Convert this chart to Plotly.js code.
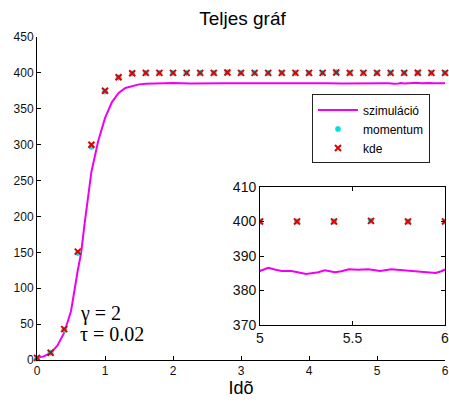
<!DOCTYPE html>
<html>
<head>
<meta charset="utf-8">
<script src="https://cdn.plot.ly/plotly-3.0.1.min.js"></script>
<style>html,body{margin:0;padding:0;background:#fff;}#chart{width:449px;height:403px;}</style>
</head>
<body>
<div id="chart"></div>
<script>
// Simulation curve (time, value)
var simT = [0,0.1,0.2,0.3,0.4,0.5,0.6,0.65,0.7,0.8,0.9,1.0,1.1,1.2,1.3,1.4,1.5,1.6,1.8,2.0,2.25,2.5,2.75,3.0,3.25,3.5,3.75,4.0,4.25,4.5,4.75,5.0,5.045,5.08,5.117,5.17,5.21,5.25,5.315,5.35,5.405,5.44,5.48,5.53,5.585,5.65,5.71,5.78,5.82,5.86,5.95,5.98,6.0];
var simV = [3,5,10,20,38,68,125,150,190,262,305,337,359,372,379,382,384,385,385.5,385.8,385.3,385.9,385.6,385.4,386,385.7,385.5,385.9,385.6,385.3,385.8,385.7,386.6,386.1,385.7,385.7,385.2,384.8,385.3,385.9,385.3,385.6,386.2,386.0,386.2,385.7,386.2,385.9,385.6,385.4,385.1,385.6,386.1];
// Estimator points
var ptT  = [0,0.2,0.4,0.6,0.8,1,1.2,1.4,1.6,1.8,2,2.2,2.4,2.6,2.8,3,3.2,3.4,3.6,3.8,4,4.2,4.4,4.6,4.8,5,5.2,5.4,5.6,5.8,6];
var kdeV = [3,10,43,151,300,375,394,399.5,400,400,400,400,400,400,400.5,400,400,400,400,400,400,400,400.5,400,400,400,400,400,400.2,400,400];
var momV = [2,10,42,149,297,374,393.5,399,400,400,400,400,400,400,401,400,400,400,400,400,400,400,401,400,400,400,400,400,400.2,400,400];
var names = ['szimuláció','momentum','kde'];
var titleText = 'Teljes gráf';
var xTitle = 'Idõ';

var lineCol = '#f000f0', momCol = '#00e0e0', kdeCol = '#e00000';
var FONT = 'Liberation Sans, Arial, sans-serif';

function sim(xa, ya, show, clip) {
  return {x: simT, y: simV, xaxis: xa, yaxis: ya, type: 'scatter', mode: 'lines', name: names[0],
    showlegend: show, cliponaxis: clip, line: {color: lineCol, width: 2}};
}
function mom(xa, ya, show, clip) {
  return {x: ptT, y: momV, xaxis: xa, yaxis: ya, type: 'scatter', mode: 'markers', name: names[1],
    showlegend: show, cliponaxis: clip,
    marker: {symbol: 'asterisk-open', size: 5, color: momCol, line: {color: momCol, width: 1.5}}};
}
function kde(xa, ya, show, clip) {
  return {x: ptT, y: kdeV, xaxis: xa, yaxis: ya, type: 'scatter', mode: 'markers', name: names[2],
    showlegend: show, cliponaxis: clip,
    marker: {symbol: 'x-thin-open', size: 6, color: kdeCol, line: {color: kdeCol, width: 2}}};
}

var data = [
  sim('x', 'y', true, false), mom('x', 'y', true, false), kde('x', 'y', true, false),
  sim('x2', 'y2', false, true), mom('x2', 'y2', false, true), kde('x2', 'y2', false, true)
];

var axBase = {showline: true, linecolor: '#000', linewidth: 1, ticks: 'inside', ticklen: 4,
  tickcolor: '#000', showgrid: false, zeroline: false, ticklabeloverflow: 'allow',
  tickfont: {family: FONT, size: 12, color: '#111'}};

var layout = {
  width: 449, height: 403,
  margin: {l: 37, r: 4, t: 37, b: 43, pad: 0},
  paper_bgcolor: '#fff', plot_bgcolor: '#fff',
  font: {family: FONT, color: '#000'},
  title: {text: titleText, x: 0.54, xanchor: 'center', y: 0.955, yanchor: 'middle',
    font: {family: FONT, size: 19, color: '#000'}},
  xaxis: Object.assign({}, axBase, {domain: [0, 1], range: [0, 6], dtick: 1, tick0: 0, anchor: 'y',
    title: {text: xTitle, standoff: 2, font: {family: FONT, size: 18, color: '#000'}}}),
  yaxis: Object.assign({}, axBase, {domain: [0, 1], range: [0, 450], dtick: 50, tick0: 0, anchor: 'x'}),
  xaxis2: Object.assign({}, axBase, {domain: [0.5466, 1], range: [5, 6], dtick: 0.5, tick0: 5, anchor: 'y2',
    mirror: 'ticks', tickfont: {family: FONT, size: 14, color: '#111'}}),
  yaxis2: Object.assign({}, axBase, {domain: [0.108, 0.5356], range: [370, 410], dtick: 10, tick0: 370, anchor: 'x2',
    mirror: 'ticks', tickfont: {family: FONT, size: 14, color: '#111'}}),
  legend: {x: 0.674, y: 0.822, xanchor: 'left', yanchor: 'top', bgcolor: '#fff',
    bordercolor: '#222', borderwidth: 1, font: {family: FONT, size: 12, color: '#000'},
    tracegroupgap: 0, itemwidth: 40},
  annotations: [
    {text: 'γ = 2', xref: 'x', yref: 'y', x: 0.6, y: 65, xanchor: 'left', yanchor: 'middle',
      showarrow: false, font: {family: 'Liberation Serif, Times New Roman, serif', size: 20, color: '#000'}},
    {text: 'τ = 0.02', xref: 'x', yref: 'y', x: 0.6, y: 36, xanchor: 'left', yanchor: 'middle',
      showarrow: false, font: {family: 'Liberation Serif, Times New Roman, serif', size: 20, color: '#000'}}
  ]
};

Plotly.newPlot('chart', data, layout, {displayModeBar: false, staticPlot: true});
</script>
</body>
</html>
